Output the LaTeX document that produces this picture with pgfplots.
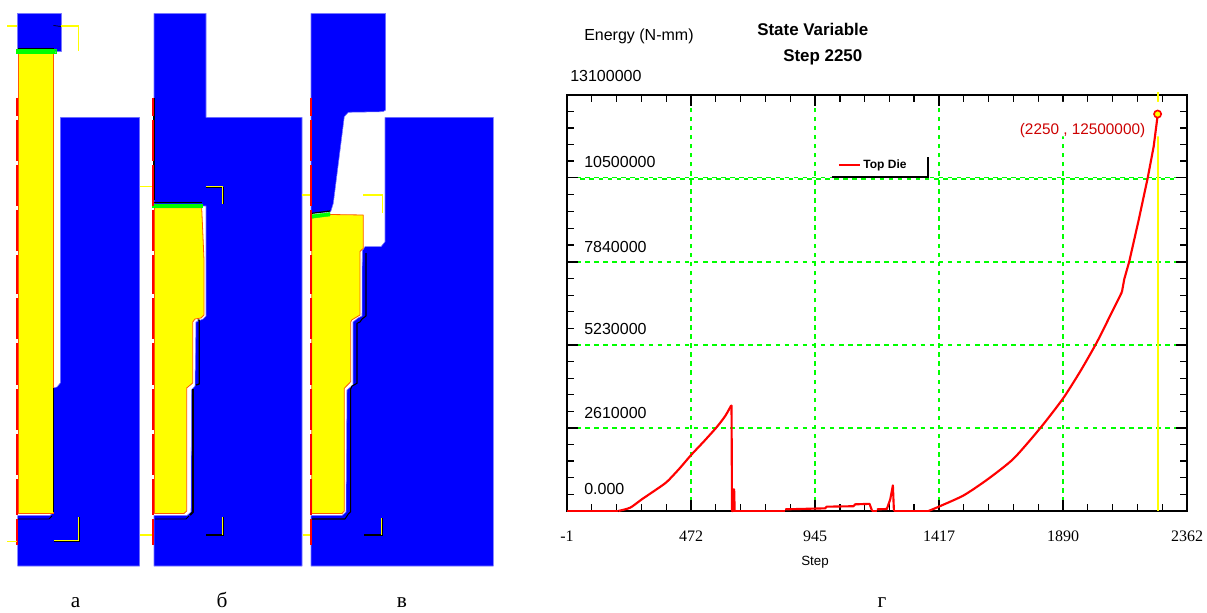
\documentclass[border=0pt]{standalone}
\usepackage{fontspec}
\usepackage{pgfplots}
\pgfplotsset{compat=1.18}
\setmainfont{Liberation Sans}
\newfontfamily\tnr{Liberation Serif}
\definecolor{ored}{RGB}{255,90,0}
\definecolor{dred}{RGB}{205,0,0}
\definecolor{gridg}{RGB}{0,255,0}
\definecolor{edgeb}{RGB}{120,120,255}
\definecolor{pureyellow}{RGB}{255,255,0}
\pgfplotsset{
  solid blue/.style={fill=blue,draw=edgeb,line width=0.4pt,line join=round},
  billet/.style={fill=pureyellow,draw=ored,line width=0.6pt,line join=round},
  contact/.style={draw=black,line width=0.9pt,line join=round},
  guide/.style={draw=pureyellow,line width=1pt},
  guide dark/.style={draw=black,line width=1.1pt},
  strip/.style={draw=red,line width=1.5pt,unbounded coords=jump},
  greenbar/.style={fill=gridg,draw=gridg,line width=0.3pt},
}
\begin{document}
\begin{tikzpicture}
\path[use as bounding box] (0,0) rectangle (905.25pt,459.75pt);
\begin{axis}[
  at={(0,0)},anchor=south west,scale only axis,width=905.25pt,height=459.75pt,
  xmin=0,xmax=1207,ymin=0,ymax=613,y dir=reverse,hide axis,clip=false]
% --- panel a ---
\addplot[solid blue] coordinates {(17.7,13.5)(61,13.5)(61,51)(17.7,51)(17.7,13.5)};
\addplot[solid blue] coordinates {(60.3,117.3)(139.7,117.3)(139.7,566)(17.7,566)(17.7,515.5)(50,515.5)(53.5,512)(53.5,388)(57,387)(60.3,383)(60.3,117.3)};
\addplot[billet] coordinates {(18.3,53.5)(53,53.5)(53,513.5)(18.3,513.5)(18.3,53.5)};
\addplot[contact] coordinates {(18,48.5)(54,48.5)};
\addplot[greenbar] coordinates {(16,49.5)(55.7,49.5)(55.7,53.3)(16,53.3)(16,49.5)};
\addplot[contact] coordinates {(53.6,388)(53.6,512)};
\addplot[contact,line width=0.6pt] coordinates {(18,519)(49,519)(52,516)};
\addplot[strip] coordinates {(16.9,97.7)(16.9,116)(nan,nan)(16.9,120)(16.9,161)(nan,nan)(16.9,165)(16.9,206)(nan,nan)(16.9,210)(16.9,251)(nan,nan)(16.9,255)(16.9,294)(nan,nan)(16.9,298)(16.9,339)(nan,nan)(16.9,343)(16.9,385)(nan,nan)(16.9,389)(16.9,430)(nan,nan)(16.9,434)(16.9,475)(nan,nan)(16.9,479)(16.9,515)(nan,nan)(16.9,519)(16.9,545)};
\addplot[guide] coordinates {(7,26)(17,26)};
\addplot[guide] coordinates {(61,26)(78.3,26)(78.3,51)};
\addplot[draw=black,line width=0.5pt] coordinates {(53.5,25.5)(61,26.5)};
\addplot[guide dark] coordinates {(54,541.7)(79,541.7)(79,517)};
\addplot[guide] coordinates {(54,540.7)(78.3,540.7)(78.3,517)};
\addplot[guide] coordinates {(7,541.5)(17,541.5)};
% --- panel b ---
\addplot[solid blue] coordinates {(154,13.5)(206,13.5)(206,117.3)(302,117.3)(302,566)(154,566)(154,515.5)(187,515.5)(191,512)(191.5,390)(195,386)(196,322)(203,319)(206,316)(206,206)(154,206)(154,13.5)};
\addplot[billet] coordinates {(154.5,207.7)(201.7,207.7)(204,260)(204,315)(201,318)(195,319)(192.7,322)(192.7,383)(186.7,388)(186.7,511)(184,513.5)(154.5,513.5)(154.5,207.7)};
\addplot[contact] coordinates {(154,202.5)(202,202.5)};
\addplot[greenbar] coordinates {(152.3,204)(202.3,204)(202.3,207.7)(152.3,207.7)(152.3,204)};
\addplot[contact] coordinates {(197.5,320)(199.3,320)(199.3,384)(196,385)};
\addplot[contact,line width=1.4pt] coordinates {(193,389)(193,512)(190,515)};
\addplot[contact,line width=0.6pt] coordinates {(155,519)(186,519)(189,516)};
\addplot[contact] coordinates {(154,97.7)(154,200)};
\addplot[strip] coordinates {(153,97.7)(153,116)(nan,nan)(153,120)(153,161)(nan,nan)(153,165)(153,206)(nan,nan)(153,210)(153,251)(nan,nan)(153,255)(153,294)(nan,nan)(153,298)(153,339)(nan,nan)(153,343)(153,385)(nan,nan)(153,389)(153,430)(nan,nan)(153,434)(153,475)(nan,nan)(153,479)(153,515)(nan,nan)(153,519)(153,545)};
\addplot[guide] coordinates {(139.7,186.7)(152.3,186.7)};
\addplot[guide dark] coordinates {(206,187.3)(223,187.3)(223,204)};
\addplot[guide,line width=0.6pt] coordinates {(206,186.7)(222.3,186.7)(222.3,204)};
\addplot[guide dark] coordinates {(206,535)(223,535)(223,517)};
\addplot[guide,line width=0.6pt] coordinates {(222.5,535)(222.5,517)};
\addplot[guide] coordinates {(139.7,535)(152.3,535)};
% --- panel c ---
\addplot[solid blue] coordinates {(311,13.5)(385.7,13.5)(385.7,110)(383,111.7)(348.3,112.3)(344.3,116.7)(333.3,203.3)(330.7,211.7)(311,213.3)(311,13.5)};
\addplot[solid blue] coordinates {(385,117.3)(493.3,117.3)(493.3,566)(311,566)(311,515.5)(342,515.5)(346,512)(347,390)(353,385)(353,322)(358,318)(362,316)(362.3,250.7)(365,246.7)(381,246.7)(385,241.7)(385,117.3)};
\addplot[billet] coordinates {(311.7,218)(330,214.5)(363.3,215)(363.3,248.3)(360,251.5)(360,315)(351.7,320)(350.7,322)(350.7,381.7)(344.3,388.3)(344.3,511)(342,513.5)(311.7,513.5)(311.7,218)};
\addplot[contact] coordinates {(312,213.3)(330,211)};
\addplot[greenbar] coordinates {(311.7,214.7)(330,212.5)(330,216)(311.7,218.3)(311.7,214.7)};
\addplot[contact,line width=0.8pt] coordinates {(366,253)(366,316)(362,319)(360,322)(357,323.3)(357,383.3)(352,386)(350.7,389)(350.7,511.7)(348.3,514)(345,519)(312,519)};
\addplot[strip] coordinates {(310.5,97.7)(310.5,116)(nan,nan)(310.5,120)(310.5,161)(nan,nan)(310.5,165)(310.5,206)(nan,nan)(310.5,210)(310.5,251)(nan,nan)(310.5,255)(310.5,294)(nan,nan)(310.5,298)(310.5,339)(nan,nan)(310.5,343)(310.5,385)(nan,nan)(310.5,389)(310.5,430)(nan,nan)(310.5,434)(310.5,475)(nan,nan)(310.5,479)(310.5,515)(nan,nan)(310.5,519)(310.5,545)};
\addplot[guide] coordinates {(301.7,195)(309.5,195)};
\addplot[guide] coordinates {(363.3,195)(382.3,195)(382.3,213)};
\addplot[guide dark] coordinates {(364,535)(382,535)(382,517.5)};
\addplot[guide,line width=0.6pt] coordinates {(381.7,535)(381.7,517.5)};
\addplot[guide] coordinates {(302.7,535)(310,535)};
% --- panel letters ---
\node[font=\tnr\fontsize{16}{18}\selectfont,anchor=base,inner sep=0pt] at (axis cs:75.5,607.5) {а};
\node[font=\tnr\fontsize{16}{18}\selectfont,anchor=base,inner sep=0pt] at (axis cs:222,607.5) {б};
\node[font=\tnr\fontsize{16}{18}\selectfont,anchor=base,inner sep=0pt] at (axis cs:402,607.5) {в};
\node[font=\tnr\fontsize{16}{18}\selectfont,anchor=base,inner sep=0pt] at (axis cs:882,607.5) {г};
% --- chart headings ---
\node[font=\fontsize{12}{14}\selectfont,anchor=base west,inner sep=0pt] at (axis cs:584,41) {Energy (N-mm)};
\node[font=\bfseries\fontsize{12.7}{14}\selectfont,anchor=base west,inner sep=0pt] at (axis cs:757,36) {State Variable};
\node[font=\bfseries\fontsize{12.7}{14}\selectfont,anchor=base west,inner sep=0pt] at (axis cs:783,62) {Step 2250};
\end{axis}
\begin{axis}[
  at={(425.25pt,76.5pt)},anchor=south west,scale only axis,width=465pt,height=312pt,
  xmin=-1,xmax=2362,ymin=0,ymax=13100000,
  axis line style={line width=1.5pt,black},
  xtick={-1,472,945,1417,1890,2362},
  xticklabels={-1,472,945,1417,1890,2362},
  ytick={0,2610000,5230000,7840000,10500000,13100000},
  yticklabels={\raisebox{4.5pt}{0.000},2610000,5230000,7840000,10500000,\hspace*{-10.5pt}\raisebox{2.5pt}{13100000}},
  scaled y ticks=false,
  minor xtick={93.6,188.2,282.8,377.4,566.2,660.8,755.4,850,1039,1133,1228,1322,1511,1606,1701,1795,1984,2079,2173,2268},
  minor ytick={524000,1048000,1572000,2096000,3134000,3658000,4182000,4706000,5752000,6274000,6796000,7318000,8372000,8904000,9436000,9968000,11020000,11540000,12060000,12580000},
  tick align=inside,tickpos=both,
  major tick length=8pt,minor tick length=5pt,
  major tick style={line width=1.4pt,black},
  minor tick style={line width=1pt,black},
  xmajorgrids,ymajorgrids,
  major grid style={draw=gridg,line width=1.2pt,dash pattern=on 3.4pt off 3.4pt},
  ticklabel pos=left,
  xticklabel style={font=\tnr\fontsize{12}{14}\selectfont,anchor=base,yshift=-23pt},
  yticklabel style={font=\fontsize{12}{14}\selectfont,anchor=base west,inner sep=0pt,xshift=12.75pt,yshift=7.5pt},
  xlabel={Step},
  xlabel style={font=\fontsize{10}{12}\selectfont,at={(axis description cs:0.4,-0.13)},anchor=base},
  legend style={at={(axis cs:1030,10893000)},anchor=west,draw=none,fill=none,
    font=\bfseries\fontsize{9}{11}\selectfont,inner sep=0pt},
  legend cell align=left,
  legend image code/.code={\draw[red,line width=1.5pt] (0pt,0pt) -- (15.75pt,0pt);},
  clip=false]
\addplot[draw=gridg,line width=1.6pt,dash pattern=on 3.4pt off 3.4pt,forget plot] coordinates {(50,10455000)(2320,10455000)};
\addplot[draw=pureyellow,line width=1.6pt,forget plot] coordinates {(2250,0)(2250,13200000)};
\addplot[fill=white,draw=none,forget plot] coordinates {(1716,11800000)(2265,11800000)(2265,12880000)(1716,12880000)(1716,11800000)};
\node[font=\fontsize{11.5}{13}\selectfont,text=dred,anchor=base west,inner sep=0pt] at (axis cs:1724,11850000) {(2250 , 12500000)};
\addplot[draw=black,line width=1.5pt,forget plot] coordinates {(1008.5,10527000)(1373,10527000)(1373,11157000)};
\addplot[draw=red,line width=2.2pt,unbounded coords=jump,forget plot] coordinates {(-1,0)(195,0)(nan,nan)(628,0)(830,0)(nan,nan)(1162,0)(1180,0)(nan,nan)(1245,0)(1377,0)};
\addplot[draw=red,line width=1.6pt,line join=round,unbounded coords=jump] coordinates {
(625,3327000)(626,3327000)(628,0)(632,0)(633,680000)(636,680000)(638,0)(nan,nan)
(830,52000)(983,84000)(989,136000)(1091,150000)(1097,210000)(1152,225000)(1162,0)(nan,nan)
(1180,52000)(1218,63000)(1231,367000)(1241,808000)(1245,0)};
\addlegendentry{Top Die}
\addplot[draw=red,line width=1.6pt,smooth,tension=0.4,forget plot] coordinates {
(195,0)(240,105000)(284,367000)(331,630000)(379,913000)(426,1322000)(472,1763000)(521,2194000)(570,2645000)(602,2991000)(625,3327000)};
\addplot[draw=red,line width=1.6pt,smooth,tension=0.4,forget plot] coordinates {
(1377,0)(1419,147000)(1511,493000)(1602,997000)(1701,1648000)(1803,2614000)(1889,3537000)(1956,4409000)(2019,5322000)(2073,6214000)(2114,6897000)};
\addplot[draw=red,line width=1.6pt,line join=round,forget plot] coordinates {
(2114,6897000)(2123,7306000)(2142,7860000)(2178,9170000)(2212,10480000)(2235,11480000)(2250,12450000)};
\addplot[only marks,mark=*,mark size=2.7pt,
  mark options={draw=red,fill=pureyellow,line width=1.2pt},forget plot] coordinates {(2250,12500000)};
\end{axis}
\end{tikzpicture}
\end{document}
